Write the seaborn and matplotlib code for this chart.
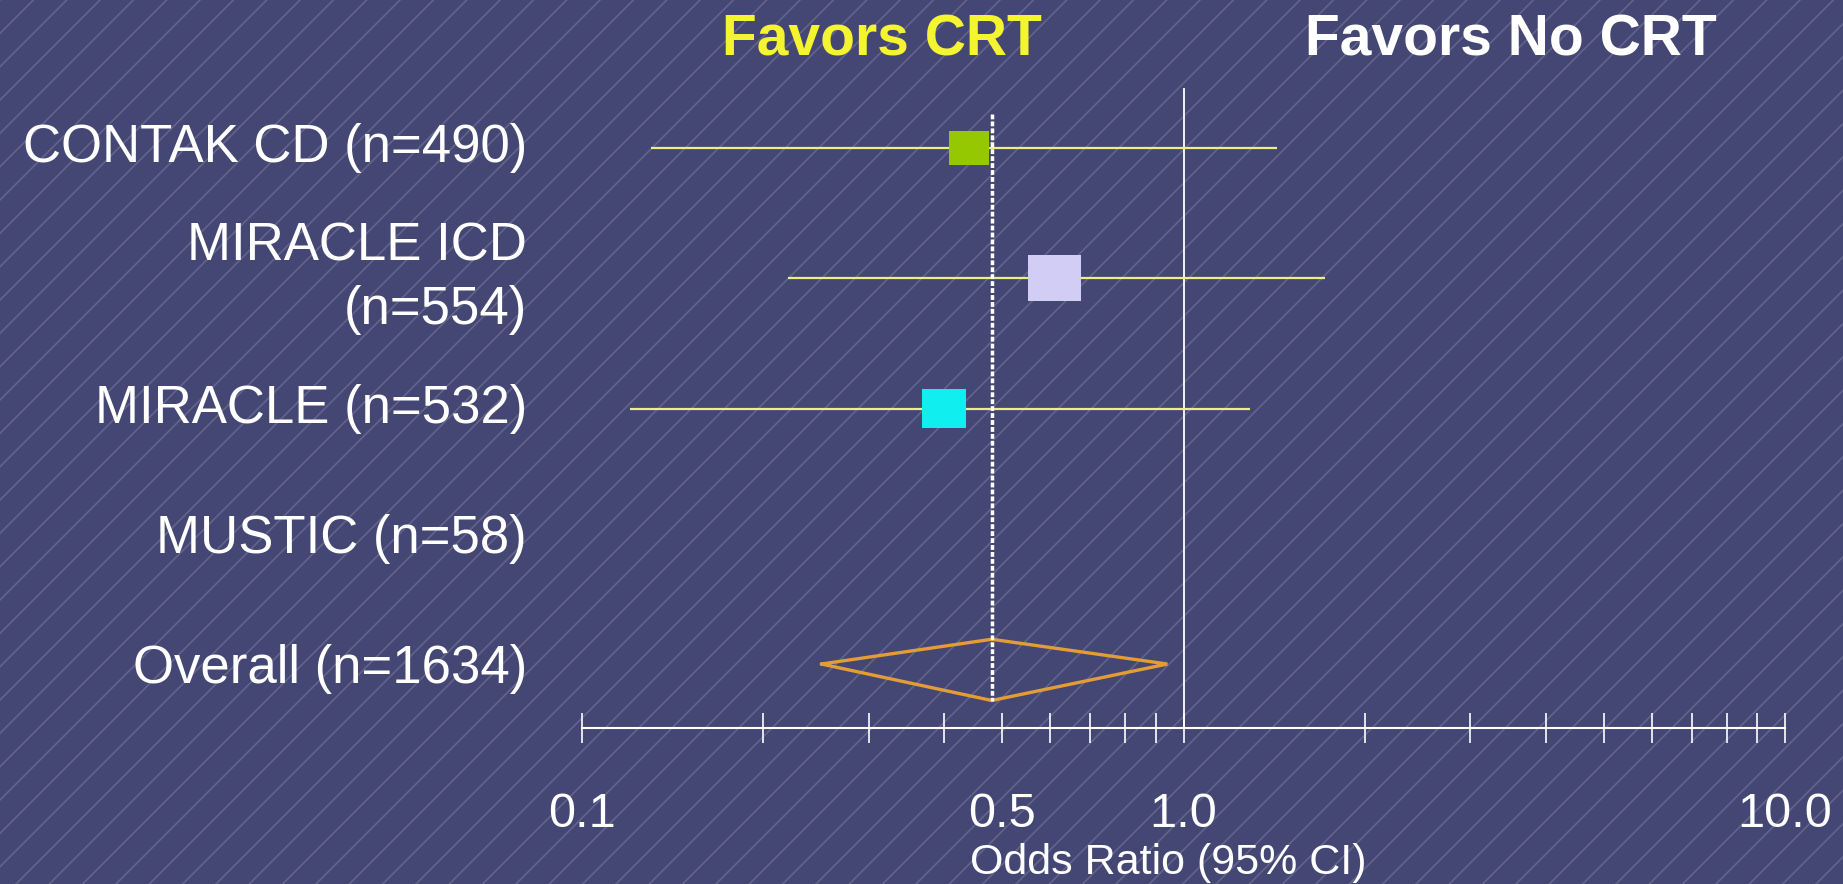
import numpy as np
import pandas as pd
import seaborn as sns
import matplotlib.pyplot as plt
from matplotlib.patches import Rectangle
from matplotlib.transforms import blended_transform_factory
from matplotlib.ticker import FixedLocator, FixedFormatter, LogLocator

# Forest plot data: odds ratio with 95% CI, top to bottom
studies = ['CONTAK CD (n=490)', 'MIRACLE ICD\n(n=554)', 'MIRACLE (n=532)',
           'MUSTIC (n=58)', 'Overall (n=1634)']
odds_ratio = [0.44, 0.61, 0.40, np.nan, 0.48]
ci_low = [0.13, 0.22, 0.12, np.nan, 0.25]
ci_high = [1.43, 1.72, 1.29, np.nan, 0.94]

tick_vals = [0.1, 0.5, 1.0, 10.0]
tick_labels = ['0.1', '0.5', '1.0', '10.0']

# styling
bg = '#444774'
box_colors = ['#96c800', '#d2cdf5', '#10eef0']
box_width_px = [40, 53, 44]
ci_color = '#eeee88'
diamond_color = '#e49c35'

df = pd.DataFrame({'study': studies, 'or': odds_ratio, 'lo': ci_low, 'hi': ci_high})
df['row'] = np.arange(len(df))

sns.set_theme(style='dark', rc={'figure.facecolor': bg, 'axes.facecolor': 'none'})
plt.rcParams['font.family'] = ['Liberation Sans', 'DejaVu Sans']
plt.rcParams['hatch.linewidth'] = 1.2

fig = plt.figure(figsize=(18.43, 8.84), dpi=100)
fig.patch.set_facecolor(bg)

# diagonal streak texture of the slide background
fig.add_artist(Rectangle((0, 0), 1, 1, transform=fig.transFigure, facecolor=bg,
                         edgecolor=(1, 1, 1, 0.16), hatch='/', lw=0, zorder=-10))

ax = fig.add_axes([582 / 1843, 156 / 884, 1203 / 1843, 640 / 884])
ax.patch.set_visible(False)
ax.set_xscale('log')
ax.set_xlim(0.1, 10)
ax.set_ylim(4.451, -0.4605)

# reference line at OR = 1
ax.axvline(1.0, color='white', lw=1.3, zorder=2)

# confidence intervals
trials = df.iloc[:3]
ax.hlines(trials['row'], trials['lo'], trials['hi'], color=ci_color, lw=1.6, zorder=3)

# study boxes
rect = [(-1, -0.87), (1, -0.87), (1, 0.87), (-1, 0.87), (-1, -0.87)]
for i, r in trials.iterrows():
    sns.scatterplot(x=[r['or']], y=[r['row']], s=(0.72 * box_width_px[i]) ** 2,
                    color=box_colors[i], marker=rect, edgecolor='none', linewidth=0,
                    ax=ax, zorder=4, legend=False)

# overall diamond
ov = df.iloc[4]
yc = ov['row']
ax.plot([ov['lo'], ov['or'], ov['hi'], ov['or'], ov['lo']],
        [yc - 0.04, yc - 0.23, yc - 0.04, yc + 0.24, yc - 0.04],
        color=diamond_color, lw=2.4, solid_joinstyle='miter', zorder=4)

# dashed line at pooled estimate
ax.vlines(ov['or'], -0.26, 4.24, colors='white', lw=2.5,
          linestyles=[(0, (1.4, 0.6))], zorder=5)

# axis styling
for s in ['top', 'right', 'left']:
    ax.spines[s].set_visible(False)
ax.spines['bottom'].set_color('white')
ax.spines['bottom'].set_linewidth(1.5)
ax.set_yticks([])
ax.set_ylabel('')
ax.set_xlabel('')
ax.grid(False)
ax.xaxis.set_major_locator(FixedLocator(tick_vals))
ax.xaxis.set_major_formatter(FixedFormatter(tick_labels))
ax.xaxis.set_minor_locator(LogLocator(base=10, subs=range(2, 10)))
ax.xaxis.set_minor_formatter(FixedFormatter([]))
ax.tick_params(axis='x', which='both', direction='inout', length=21.6, width=1.2,
               color='white', labelcolor='white', labelsize=35, pad=35, bottom=True)

# row labels
tr = blended_transform_factory(fig.transFigure, ax.transData)
for _, r in df.iterrows():
    ax.text(527 / 1843, r['row'], r['study'], transform=tr, ha='right', va='center',
            fontsize=38, color='white', linespacing=1.33)

# headers and axis title
fig.text(882 / 1843, 1 - 40 / 884, 'Favors CRT', ha='center', va='center',
         fontsize=41, weight='bold', color='#f4f430')
fig.text(1511 / 1843, 1 - 40 / 884, 'Favors No CRT', ha='center', va='center',
         fontsize=41, weight='bold', color='white')
fig.text(1168 / 1843, 1 - 863 / 884, 'Odds Ratio (95% CI)', ha='center', va='center',
         fontsize=31, color='white')

fig.savefig('out.png', dpi=100, facecolor=fig.get_facecolor())
